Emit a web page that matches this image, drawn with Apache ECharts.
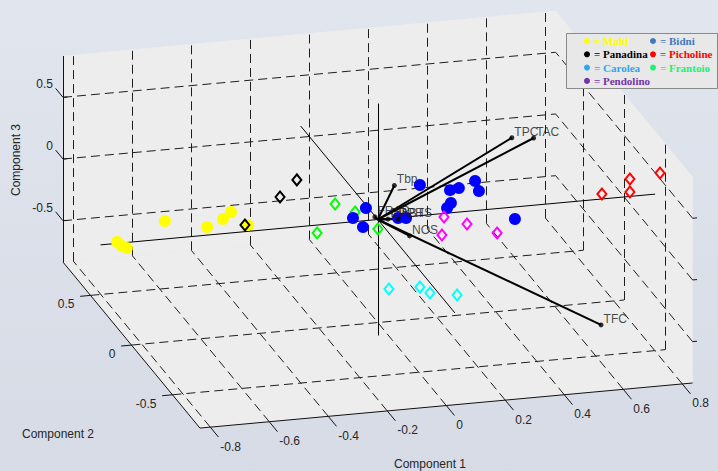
<!DOCTYPE html>
<html><head><meta charset="utf-8">
<script src="https://cdn.jsdelivr.net/npm/echarts@6/dist/echarts.min.js"></script>
<style>html,body{margin:0;padding:0;background:#dde1ea;}#c{width:718px;height:471px;}</style>
</head><body><div id="c"></div>
<script>
// ---------- data ----------
const xTicks = [-0.8, -0.6, -0.4, -0.2, 0, 0.2, 0.4, 0.6, 0.8];
const yTicks = [-0.5, 0, 0.5];
const zTicks = [-0.5, 0, 0.5];
const xTickLabels = ['-0.8', '-0.6', '-0.4', '-0.2', '0', '0.2', '0.4', '0.6', '0.8'];
const yTickLabels = ['-0.5', '0', '0.5'];
const zTickLabels = ['-0.5', '0', '0.5'];
const axisTitles = ['Component 1', 'Component 2', 'Component 3'];
const axisLimit = 0.835;      // box limits (all three components)
const biplotAxisHalf = 0.94;  // length of the component lines through the origin

// observation scores [Component 1, Component 2, Component 3]
const malti = [[-0.828,0.2,-0.162],[-0.812,0.2,-0.199],[-0.795,0.2,-0.218],[-0.666,0.2,-0.028],[-0.523,0.2,-0.108],[-0.469,0.2,-0.054],[-0.442,0.2,-0.004],[-0.384,0.2,-0.122]];
const panadina = [[-0.367,0.3,-0.206],[-0.248,0.3,-0.005],[-0.191,0.3,0.121]];
const frantoio = [[-0.117,0.1,0.071],[-0.178,0.1,-0.151],[-0.049,0.1,-0.009],[0.028,0.1,-0.164]];
const bidni = [[-0.068,-0.1,0.188],[-0.112,-0.1,0.117],[-0.078,-0.1,0.036],[0.041,-0.1,0.083],[0.068,-0.1,0.078],[0.115,-0.1,0.335],[0.217,-0.1,0.271],[0.247,-0.1,0.281],[0.302,-0.1,0.326],[0.315,-0.1,0.242],[0.220,-0.1,0.166],[0.207,-0.1,0.128],[0.437,-0.1,-0.011]];
const pendolino = [[0.141,-0.3,0.231],[0.219,-0.3,0.157],[0.134,-0.3,0.087],[0.321,-0.3,0.062]];
const carolea = [[-0.129,-0.6,-0.052],[-0.024,-0.6,-0.059],[0.010,-0.6,-0.115],[0.102,-0.6,-0.151]];
const picholine = [[0.704,-0.2,0.214],[0.799,-0.2,0.314],[0.799,-0.2,0.209],[0.901,-0.2,0.341]];

// variable loadings
const loadingNames = ['TPC','TAC','Tbp','TFC','NOS','FRAP','DPPH','ABTS'];
const loadingPC1 = [0.51, 0.57, 0.07, 0.59, 0.08, 0.004, 0.026, 0.055];
const loadingPC2 = [0.20, 0.15, 0.05, -0.60, -0.10, 0.05, -0.03, -0.05];
const loadingPC3 = [0.39, 0.415, 0.22, -0.50, -0.07, -0.02, 0.022, 0.032];

// ---------- projection (orthographic 3-D view) ----------
const VIEW = {ox: 377.8, oy: 219.5, ex: [295, -27], ey: [-82, -99.4], ez: [0, -123.4]};
function P(x, y, z) {
  return [VIEW.ox + VIEW.ex[0]*x + VIEW.ey[0]*y + VIEW.ez[0]*z,
          VIEW.oy + VIEW.ex[1]*x + VIEW.ey[1]*y + VIEW.ez[1]*z];
}
function seg(a, b) { return {coords: [P(a[0],a[1],a[2]), P(b[0],b[1],b[2])]}; }
const L = axisLimit;

// walls
const walls = [
  [[-L,-L,-L],[L,-L,-L],[L,L,-L],[-L,L,-L]],   // floor
  [[-L,L,-L],[L,L,-L],[L,L,L],[-L,L,L]],       // back wall
  [[L,-L,-L],[L,L,-L],[L,L,L],[L,-L,L]]        // side wall
];

// dashed grid
const gridSegs = [];
xTicks.forEach(t => { gridSegs.push(seg([t,-L,-L],[t,L,-L])); gridSegs.push(seg([t,L,-L],[t,L,L])); });
yTicks.forEach(t => { gridSegs.push(seg([-L,t,-L],[L,t,-L])); gridSegs.push(seg([L,t,-L],[L,t,L])); });
zTicks.forEach(t => { gridSegs.push(seg([-L,L,t],[L,L,t])); gridSegs.push(seg([L,-L,t],[L,L,t])); });

// box edges + ticks
const boxSegs = [
  seg([-L,L,-L],[-L,L,L]),
  seg([-L,-L,-L],[-L,L,-L]),
  seg([-L,-L,-L],[L,-L,-L])
];
xTicks.forEach(t => boxSegs.push(seg([t,-L,-L],[t,-L-0.1,-L])));
yTicks.forEach(t => boxSegs.push(seg([-L,t,-L],[-L-0.035,t,-L])));
zTicks.forEach(t => { boxSegs.push(seg([-L,L,t],[-L,L+0.09,t])); boxSegs.push(seg([-L,L,t],[-L+0.015,L,t])); boxSegs.push(seg([L,-L,t],[L+0.015,-L,t])); });

// texts
const texts = [];
xTicks.forEach((t,i) => texts.push({pos: P(t,-L,-L), dx: 10, dy: 19.5, text: xTickLabels[i], align: 'left'}));
yTicks.forEach((t,i) => texts.push({pos: P(-L,t,-L), dx: -16, dy: 9, text: yTickLabels[i], align: 'right'}));
zTicks.forEach((t,i) => texts.push({pos: P(-L,L,t), dx: -10, dy: -13, text: zTickLabels[i], align: 'right'}));
texts.push({pos: [430, 464], dx: 0, dy: 0, text: axisTitles[0], align: 'center'});
texts.push({pos: [58, 434], dx: 0, dy: 0, text: axisTitles[1], align: 'center'});
texts.push({pos: [16, 160], dx: 0, dy: 0, text: axisTitles[2], align: 'center', rot: Math.PI/2});

// component lines through origin
const A = biplotAxisHalf;
const axisSegs = [seg([-A,0,0],[A,0,0]), seg([0,-A,0],[0,A,0]), seg([0,0,-A],[0,0,A])];

// loading vectors
const vecSegs = loadingNames.map((n,i) => seg([0,0,0],[loadingPC1[i],loadingPC2[i],loadingPC3[i]]));
const vecEnds = loadingNames.map((n,i) => ({name: n, value: P(loadingPC1[i],loadingPC2[i],loadingPC3[i])}));

const FONT = '"Liberation Sans", Arial, sans-serif';

function pointSeries(name, pts, symbol, color, z) {
  const hollow = symbol === 'diamond';
  return {
    type: 'scatter', name: name, z: z, silent: true,
    symbol: symbol, symbolSize: hollow ? [9, 11] : 12,
    itemStyle: hollow ? {color: 'rgba(0,0,0,0)', borderColor: color, borderWidth: 2, opacity: 1}
                      : {color: color, opacity: 1},
    data: pts.map(p => P(p[0], p[1], p[2]))
  };
}

const legendStyle = (name, color) => ({name: name, icon: 'circle', itemStyle: {color: color, borderWidth: 0}, textStyle: {color: color}});
const legendCommon = {
  orient: 'vertical', itemWidth: 6, itemHeight: 6, itemGap: 2.3, padding: 0, selectedMode: false,
  formatter: '= {name}',
  textStyle: {fontFamily: '"Liberation Serif", "Times New Roman", serif', fontWeight: 'bold', fontSize: 11, lineHeight: 11, padding: [0,0,0,-1]}
};

const chart = echarts.init(document.getElementById('c'), null, {renderer: 'svg', width: 718, height: 471});
chart.setOption({
  animation: false,
  backgroundColor: {type: 'linear', x: 0, y: 0, x2: 0, y2: 1, colorStops: [{offset: 0, color: '#e1e5ee'}, {offset: 1, color: '#d6dbe5'}]},
  grid: {left: 0, top: 0, width: 718, height: 471},
  xAxis: {type: 'value', min: 0, max: 718, show: false},
  yAxis: {type: 'value', min: 0, max: 471, inverse: true, show: false},
  legend: [
    Object.assign({left: 584, top: 35.5, data: [legendStyle('Malti','#ffff00'), legendStyle('Panadina','#000000'), legendStyle('Carolea','#2aa8f0'), legendStyle('Pendolino','#7434a8')]}, legendCommon),
    Object.assign({left: 650, top: 35.5, data: [legendStyle('Bidni','#3f78c0'), legendStyle('Picholine','#ff0000'), legendStyle('Frantoio','#22f070')]}, legendCommon)
  ],
  graphic: [{type: 'rect', z: 3, shape: {x: 566.5, y: 33.5, width: 151, height: 55}, style: {fill: '#e8e8e8', stroke: '#8a8a8a', lineWidth: 1}}],
  series: [
    {type: 'custom', z: 1, silent: true, data: walls.map((w,i) => [0, 0, i]),
     renderItem: (params, api) => {
       const w = walls[params.dataIndex];
       return {type: 'polygon', shape: {points: w.map(c => api.coord(P(c[0],c[1],c[2])))}, style: {fill: '#ededed', stroke: '#ededed', lineWidth: 0.6}};
     }},
    {type: 'lines', coordinateSystem: 'cartesian2d', z: 2, silent: true, data: gridSegs,
     lineStyle: {color: '#1e1e1e', width: 1, type: [9, 5], opacity: 1}},
    {type: 'lines', coordinateSystem: 'cartesian2d', z: 2, silent: true, data: boxSegs,
     lineStyle: {color: '#111111', width: 1, type: 'solid', opacity: 1}},
    {type: 'custom', z: 2, silent: true, data: texts.map((t,i) => [t.pos[0], t.pos[1], i]),
     renderItem: (params, api) => {
       const t = texts[params.dataIndex];
       const p = api.coord([api.value(0), api.value(1)]);
       return {type: 'text', x: p[0] + t.dx, y: p[1] + t.dy, rotation: t.rot || 0,
               style: {text: t.text, fill: '#262626', font: '12px ' + FONT, align: t.align, verticalAlign: 'middle'}};
     }},
    {type: 'lines', coordinateSystem: 'cartesian2d', z: 2, silent: true, data: axisSegs,
     lineStyle: {color: '#000000', width: 1, type: 'solid', opacity: 1}},
    pointSeries('Malti', malti, 'circle', '#ffff00', 2),
    pointSeries('Panadina', panadina, 'diamond', '#000000', 2),
    pointSeries('Frantoio', frantoio, 'diamond', '#00ff00', 2),
    pointSeries('Bidni', bidni, 'circle', '#0000ff', 2),
    pointSeries('Pendolino', pendolino, 'diamond', '#ff00ff', 2),
    pointSeries('Carolea', carolea, 'diamond', '#00ffff', 2),
    pointSeries('Picholine', picholine, 'diamond', '#ff0000', 2),
    {type: 'lines', coordinateSystem: 'cartesian2d', z: 2, silent: true, data: vecSegs,
     lineStyle: {color: '#000000', width: 2, type: 'solid', opacity: 1}},
    {type: 'scatter', z: 2, silent: true, symbol: 'circle', symbolSize: 5, itemStyle: {color: '#000000'},
     data: vecEnds,
     label: {show: true, formatter: '{b}', position: 'right', distance: 0, offset: [0, -6], color: '#1a1a1a', fontSize: 12, fontFamily: FONT}}
  ]
});
</script>
</body></html>
